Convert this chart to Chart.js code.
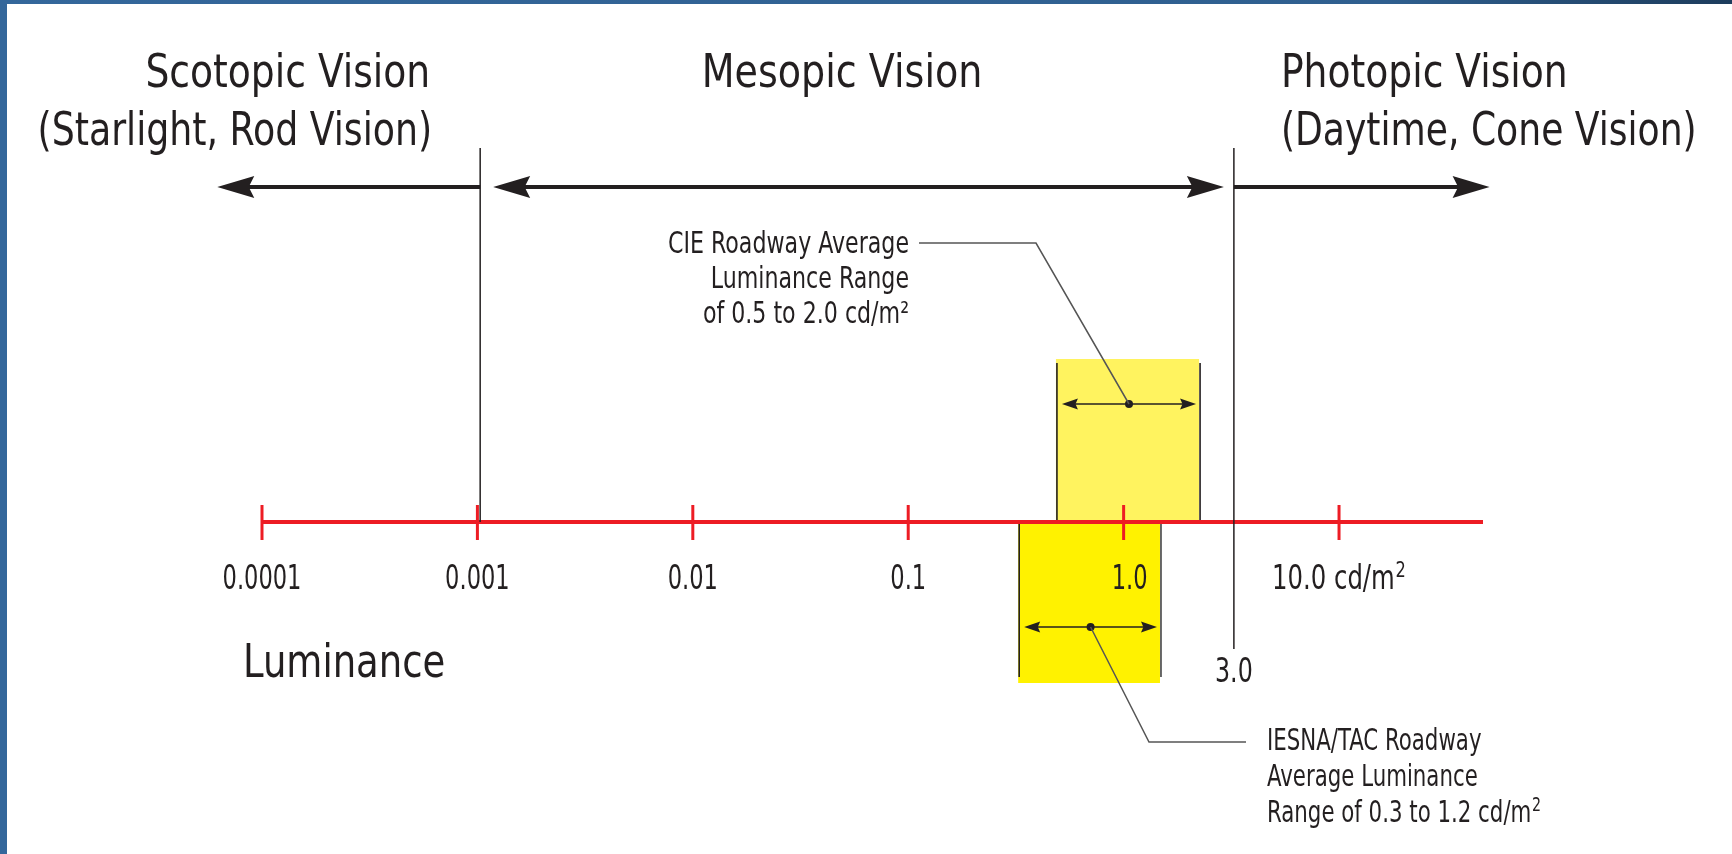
<!DOCTYPE html>
<html>
<head>
<meta charset="utf-8">
<script src="https://cdn.jsdelivr.net/npm/chart.js@4.4.1/dist/chart.umd.min.js"></script>
<style>
  html, body { margin: 0; padding: 0; background: #fff; }
  canvas { display: block; }
</style>
</head>
<body>
<canvas id="lumChart" width="1732" height="854"></canvas>
<script>
// luminance axis (cd/m2), log scale
const tickValues = [0.0001, 0.001, 0.01, 0.1, 1, 10];
const tickLabels = ['0.0001', '0.001', '0.01', '0.1', '1.0', '10.0 cd/m'];
const tickSup = ['', '', '', '', '', '2'];
const axisRange = [0.0001, 46.6];

// vision zones
const zoneTitles = ['Scotopic Vision', 'Mesopic Vision', 'Photopic Vision'];
const zoneSubtitles = ['(Starlight, Rod Vision)', '', '(Daytime, Cone Vision)'];
const zoneBounds = [0.00103, 3.25];
const zoneBoundLabels = ['', '3.0'];
const arrowEnds = [0.000062, 50];

// roadway ranges as drawn
const cieRange = [0.485, 2.24];
const iesnaRange = [0.324, 1.475];
const cieNote = ['CIE Roadway Average', 'Luminance Range', 'of 0.5 to 2.0 cd/m²'];
const iesnaNote = ['IESNA/TAC Roadway', 'Average Luminance', 'Range of 0.3 to 1.2 cd/m'];
const iesnaSup = ['', '', '2'];

const FONT = '"Liberation Sans Narrow", "DejaVu Sans Condensed", "Roboto", sans-serif';
const INK = '#231f20';
const RED = '#ed1c24';

// draws text squeezed horizontally by k (the original uses a condensed face)
function txt(ctx, s, x, y, size, align, k, sup) {
  k = k || 1;
  ctx.font = size + 'px ' + FONT;
  ctx.textAlign = 'left';
  ctx.textBaseline = 'alphabetic';
  const w = ctx.measureText(s).width;
  let sw = 0;
  const supSize = Math.round(size * 0.68);
  if (sup) {
    ctx.font = supSize + 'px ' + FONT;
    sw = ctx.measureText(sup).width + 1;
  }
  const total = (w + sw) * k;
  let x0 = x;
  if (align === 'center') x0 = x - total / 2;
  if (align === 'right') x0 = x - total;
  ctx.save();
  ctx.translate(x0, y);
  ctx.scale(k, 1);
  ctx.font = size + 'px ' + FONT;
  ctx.fillText(s, 0, 0);
  if (sup) {
    ctx.font = supSize + 'px ' + FONT;
    ctx.fillText(sup, w + 1, -size * 0.36);
  }
  ctx.restore();
}

function line(ctx, pts, width, color) {
  ctx.beginPath();
  ctx.moveTo(pts[0][0], pts[0][1]);
  for (let i = 1; i < pts.length; i++) ctx.lineTo(pts[i][0], pts[i][1]);
  ctx.lineWidth = width;
  ctx.strokeStyle = color;
  ctx.stroke();
}

function head(ctx, tipX, y, dir, len, half) {
  ctx.beginPath();
  ctx.moveTo(tipX, y);
  ctx.lineTo(tipX - dir * len, y - half);
  ctx.lineTo(tipX - dir * len * 0.85, y);
  ctx.lineTo(tipX - dir * len, y + half);
  ctx.closePath();
  ctx.fillStyle = INK;
  ctx.fill();
}

const diagram = {
  id: 'diagram',
  beforeDraw(chart) {
    const ctx = chart.ctx;
    ctx.save();
    ctx.fillStyle = '#fff';
    ctx.fillRect(0, 0, chart.width, chart.height);
    // frame
    const g = ctx.createLinearGradient(0, 0, chart.width, 0);
    g.addColorStop(0, '#34679b');
    g.addColorStop(0.8, '#2f5f8f');
    g.addColorStop(1, '#1d3c5c');
    ctx.fillStyle = g;
    ctx.fillRect(0, 0, chart.width, 4);
    ctx.fillStyle = '#34679b';
    ctx.fillRect(0, 0, 7, chart.height);
    ctx.restore();
  },
  afterDraw(chart) {
    const ctx = chart.ctx;
    const x = chart.scales.x;
    const px = v => x.getPixelForValue(v);
    const axisY = 522;
    ctx.save();
    ctx.lineCap = 'butt';

    // yellow boxes
    ctx.fillStyle = '#fff35f';
    ctx.fillRect(px(cieRange[0]), 359, px(cieRange[1]) - px(cieRange[0]), axisY - 359);
    ctx.fillStyle = '#fff200';
    ctx.fillRect(px(iesnaRange[0]), axisY, px(iesnaRange[1]) - px(iesnaRange[0]), 683 - axisY);

    // box edge lines
    line(ctx, [[px(cieRange[0]) + 1, 363], [px(cieRange[0]) + 1, axisY]], 1.6, INK);
    line(ctx, [[px(cieRange[1]) + 1, 363], [px(cieRange[1]) + 1, axisY]], 1.6, INK);
    line(ctx, [[px(iesnaRange[0]) + 1, axisY], [px(iesnaRange[0]) + 1, 677]], 1.6, INK);
    line(ctx, [[px(iesnaRange[1]) + 1, axisY], [px(iesnaRange[1]) + 1, 677]], 1.6, '#444');

    // red luminance axis
    line(ctx, [[px(axisRange[0]), axisY], [px(axisRange[1]), axisY]], 4, RED);
    tickValues.forEach((v, i) => {
      const tx = px(v);
      line(ctx, [[tx, axisY - 17], [tx, axisY + 18]], 3, RED);
      ctx.fillStyle = INK;
      const k = tickSup[i] ? 0.82 : 0.76;
      const dx = tickLabels[i] === '1.0' ? 6 : 0;
      txt(ctx, tickLabels[i], tx + dx, 589, 33, 'center', k, tickSup[i]);
    });

    // zone boundary lines
    line(ctx, [[px(zoneBounds[0]), 148], [px(zoneBounds[0]), axisY]], 1.5, INK);
    line(ctx, [[px(zoneBounds[1]), 148], [px(zoneBounds[1]), 649]], 1.5, INK);
    ctx.fillStyle = INK;
    txt(ctx, zoneBoundLabels[1], px(zoneBounds[1]), 682, 33, 'center', 0.8);

    // vision arrows
    const ay = 187;
    const b0 = px(zoneBounds[0]), b1 = px(zoneBounds[1]);
    const l = px(arrowEnds[0]), r = px(arrowEnds[1]);
    line(ctx, [[l + 30, ay], [b0, ay]], 4, INK);
    head(ctx, l, ay, -1, 37, 11);
    line(ctx, [[b0 + 40, ay], [b1 - 40, ay]], 4, INK);
    head(ctx, b0 + 13, ay, -1, 37, 11);
    head(ctx, b1 - 10, ay, 1, 37, 11);
    line(ctx, [[b1, ay], [r - 30, ay]], 4, INK);
    head(ctx, r, ay, 1, 37, 11);

    // zone titles
    ctx.fillStyle = INK;
    txt(ctx, zoneTitles[0], b0 - 50, 87, 46, 'right', 0.91);
    txt(ctx, zoneSubtitles[0], b0 - 48, 145, 46, 'right', 0.877);
    txt(ctx, zoneTitles[1], (b0 + b1) / 2 - 15, 87, 46, 'center', 0.92);
    txt(ctx, zoneTitles[2], b1 + 47, 87, 46, 'left', 0.91);
    txt(ctx, zoneSubtitles[2], b1 + 47, 145, 46, 'left', 0.873);

    // axis title
    txt(ctx, 'Luminance', 243, 677, 47, 'left', 0.875);

    // range arrows with dots
    const ranges = [[cieRange, 404], [iesnaRange, 627]];
    const dots = [];
    ranges.forEach(([rg, y]) => {
      const a = px(rg[0]) + 6, bb = px(rg[1]) - 3;
      line(ctx, [[a + 10, y], [bb - 10, y]], 1.5, INK);
      head(ctx, a, y, -1, 16, 5.5);
      head(ctx, bb, y, 1, 16, 5.5);
      const mid = (a + bb) / 2;
      dots.push([mid, y]);
      ctx.beginPath();
      ctx.arc(mid, y, 4, 0, Math.PI * 2);
      ctx.fillStyle = INK;
      ctx.fill();
    });

    // leaders
    line(ctx, [[919, 243], [1036, 243], dots[0]], 1.5, '#555');
    line(ctx, [dots[1], [1149, 742], [1246, 742]], 1.5, '#555');

    // notes
    ctx.fillStyle = INK;
    cieNote.forEach((s, i) => txt(ctx, s, 909, 253 + i * 35, 30, 'right', 0.82));
    iesnaNote.forEach((s, i) => txt(ctx, s, 1267, 750 + i * 36, 30, 'left', 0.79, iesnaSup[i]));

    ctx.restore();
  }
};

new Chart(document.getElementById('lumChart'), {
  type: 'scatter',
  data: { datasets: [] },
  options: {
    responsive: false,
    animation: false,
    layout: { padding: { left: 262, right: 249, top: 0, bottom: 0 } },
    plugins: { legend: { display: false }, tooltip: { enabled: false } },
    scales: {
      x: { type: 'logarithmic', min: axisRange[0], max: axisRange[1], display: false },
      y: { min: 0, max: 1, display: false }
    }
  },
  plugins: [diagram]
});
</script>
</body>
</html>
